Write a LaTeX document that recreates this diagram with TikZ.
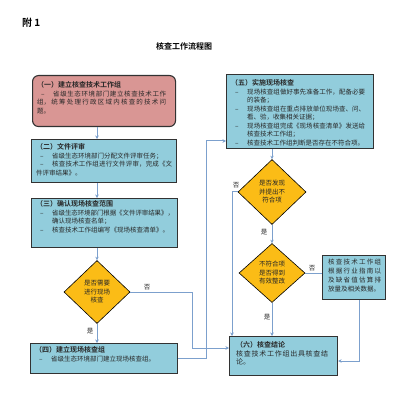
\documentclass[tikz,border=0pt]{standalone}
\usepackage{fontspec}
\setmainfont{Noto Sans CJK SC}[BoldFont={Noto Sans CJK SC Bold}]
\usetikzlibrary{shapes.geometric,arrows.meta}
\XeTeXlinebreaklocale "zh"
\XeTeXlinebreakskip=0pt plus 1pt minus 0.2pt
\tolerance=10000
\hbadness=10000
\definecolor{boxred}{RGB}{217,150,148}
\definecolor{boxblue}{RGB}{146,205,220}
\definecolor{dgold}{RGB}{251,188,22}
\definecolor{connc}{RGB}{124,160,205}
\definecolor{edgec}{RGB}{50,50,50}
\definecolor{textc}{RGB}{40,40,40}
\newcommand\bitem[1]{\par\hangindent=16pt\hangafter=1\noindent\makebox[16pt][l]{\hspace{4pt}–}#1}
\newcommand\btitle[1]{{\bfseries\fontsize{7pt}{8.5pt}\selectfont #1}}
\tikzset{
  boxbase/.style={draw=edgec, line width=1.1pt, inner sep=0pt, anchor=north west},
  redbox/.style={boxbase, fill=boxred, rounded corners=6pt},
  bluebox/.style={boxbase, fill=boxblue},
  txt/.style={inner sep=0pt, anchor=north west, align=justify, font=\fontsize{6.5pt}{8.5pt}\selectfont, text=textc},
  dec/.style={shape=diamond, draw=black, line width=0.6pt, fill=dgold, inner sep=0pt, align=center, font=\fontsize{6.5pt}{8.5pt}\selectfont, text=textc},
  conn/.style={draw=connc, line width=1pt},
  arr/.style={conn, -{Stealth[length=3.5pt,width=3.5pt]}},
  lab/.style={font=\fontsize{6.5pt}{8pt}\selectfont, text=textc, inner sep=0pt}
}
\begin{document}
\begin{tikzpicture}[x=1pt,y=-1pt]
\useasboundingbox (0,0) rectangle (402,401);
% header
\node[font=\bfseries\fontsize{10pt}{12pt}\selectfont, anchor=west, inner sep=0pt] (hd) at (22,23) {附 1};
\node[font=\bfseries\fontsize{8pt}{10pt}\selectfont, inner sep=0pt] (tt) at (184,46) {核查工作流程图};
% boxes
\node[redbox, minimum width=143pt, minimum height=51pt] (b1) at (32,75) {};
\node[bluebox, minimum width=145pt, minimum height=43pt] (b2) at (31,139) {};
\node[bluebox, minimum width=146pt, minimum height=49pt] (b3) at (31,198) {};
\node[bluebox, minimum width=147pt, minimum height=30pt] (b4) at (30,343) {};
\node[bluebox, minimum width=147pt, minimum height=74pt] (b5) at (226,74) {};
\node[bluebox, minimum width=108pt, minimum height=39pt] (b6) at (229,336) {};
\node[bluebox, minimum width=63pt, minimum height=44pt] (b7) at (322,255) {};
% box texts
\node[txt, text width=129pt] (t1) at (37,81.7) {\btitle{（一）建立核查技术工作组}\bitem{省级生态环境部门建立核查技术工作\linebreak 组，统筹处理行政区域内核查的技术问\linebreak 题。}};
\node[txt, text width=136pt] (t2) at (36,143.7) {\btitle{（二）文件评审}\bitem{省级生态环境部门分配文件评审任务；}\bitem{核查技术工作组进行文件评审，完成《文\linebreak 件评审结果》。}};
\node[txt, text width=138pt] (t3) at (36,200.7) {\btitle{（三）确认现场核查范围}\bitem{省级生态环境部门根据《文件评审结果》，\linebreak 确认现场核查名单；}\bitem{核查技术工作组编写《现场核查清单》。}};
\node[txt, text width=140pt] (t4) at (35,346.7) {\btitle{（四）建立现场核查组}\bitem{省级生态环境部门建立现场核查组。}};
\node[txt, text width=134pt] (t5) at (231,79.7) {\btitle{（五）实施现场核查}\bitem{现场核查组做好事先准备工作，配备必要\linebreak 的装备；}\bitem{现场核查组在重点排放单位现场查、问、\linebreak 看、验，收集相关证据；}\bitem{现场核查组完成《现场核查清单》发送给\linebreak 核查技术工作组；}\bitem{核查技术工作组判断是否存在不符合项。}};
\node[txt, text width=92pt, font=\fontsize{7pt}{8.5pt}\selectfont] (t6) at (236,341.7) {\btitle{（六）核查结论}\par 核查技术工作组出具核查结\linebreak 论。};
\node[txt, text width=53pt, font=\fontsize{6.5pt}{9pt}\selectfont] (t7) at (328,258.7) {核查技术工作组\linebreak 根据行业指南以\linebreak 及缺省值估算排\linebreak 放量及相关数据。};
% decisions
\node[dec, minimum width=66pt, minimum height=63pt] (d1) at (97,292) {是否需要\\进行现场\\核查};
\node[dec, minimum width=68pt, minimum height=65pt] (d2) at (272,192) {是否发现\\并提出不\\符合项};
\node[dec, minimum width=66pt, minimum height=59pt] (d3) at (272,273) {不符合项\\是否得到\\有效整改};
% connectors
\draw[arr] (b1.south -| d1) -- (b2.north -| d1);
\draw[arr] (b2.south -| d1) -- (b3.north -| d1);
\draw[arr] (b3.south -| d1) -- (d1.north);
\draw[arr] (d1.south) -- (b4.north -| d1);
\coordinate (j1) at (192,348);
\draw[arr] (d1.east) -| (j1) -- (j1 -| b6.west);
\coordinate (j2) at (206,141);
\draw[arr] (b4.east) -| (j2) -- (j2 -| b5.west);
\draw[arr] (b5.south -| d2) -- (d2.north);
\coordinate (j3) at (232,192);
\draw[arr] (d2.west) -| (j3 |- b6.north);
\draw[arr] (d2.south) -- (d3.north);
\draw[arr] (d3.south) -- (b6.north -| d3);
\draw[conn] (d3.east) -- (d3.east -| b7.west);
\coordinate (j4) at (359,361);
\draw[arr] (j4 |- b7.south) -- (j4) -- (j4 -| b6.east);
% labels
\node[lab] (l1) at (147,287) {否};
\node[lab] (l2) at (90,331) {是};
\node[lab] (l3) at (236,185) {否};
\node[lab] (l4) at (264,232) {是};
\node[lab] (l5) at (312,268) {否};
\node[lab] (l6) at (267,317) {是};
\end{tikzpicture}
\end{document}
